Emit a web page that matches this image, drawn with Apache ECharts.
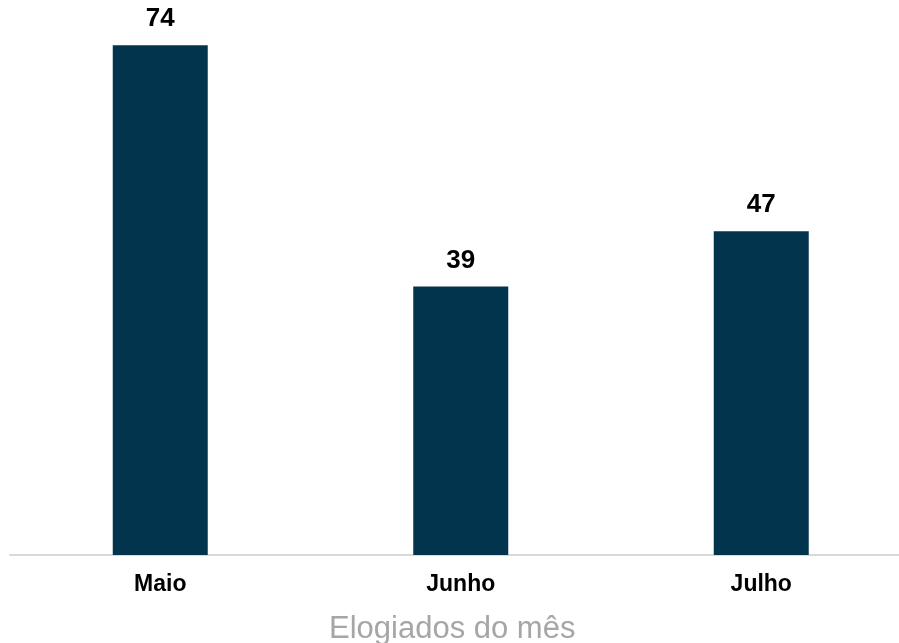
<!DOCTYPE html>
<html>
<head>
<meta charset="utf-8">
<script src="https://cdn.jsdelivr.net/npm/echarts@6/dist/echarts.min.js"></script>
<style>
  html, body { margin: 0; padding: 0; background: #fff; }
  #chart { width: 899px; height: 643px; }
</style>
</head>
<body>
<div id="chart"></div>
<script>
const categories = ['Maio', 'Junho', 'Julho'];
const elogios = [74, 39, 47];
const axisTitle = 'Elogiados do mês';

const FONT = '"Liberation Sans", Arial, sans-serif';

const chartDom = document.getElementById('chart');
const myChart = echarts.init(chartDom);

const option = {
  animation: false,
  title: {
    text: axisTitle,
    left: 324,
    top: 609,
    textStyle: {
      color: '#a6a6a6',
      fontSize: 31,
      fontWeight: 'normal',
      fontFamily: FONT
    }
  },
  grid: {
    left: 10,
    right: -12.5,
    top: 4,
    bottom: 88,
    outerBoundsMode: 'none',
    containLabel: false
  },
  xAxis: {
    type: 'category',
    data: categories,
    axisTick: { show: false },
    axisLine: {
      lineStyle: { color: '#d9d9d9', width: 2 }
    },
    axisLabel: {
      color: '#000',
      fontSize: 23,
      fontWeight: 'bold',
      fontFamily: FONT,
      margin: 18
    }
  },
  yAxis: {
    type: 'value',
    min: 0,
    max: 80,
    show: false,
    splitLine: { show: false }
  },
  series: [
    {
      type: 'bar',
      data: elogios,
      barWidth: 95,
      itemStyle: { color: '#03344d' },
      label: {
        show: true,
        position: 'top',
        distance: 13,
        color: '#000',
        fontSize: 26,
        fontWeight: 'bold',
        fontFamily: FONT
      }
    }
  ]
};

option && myChart.setOption(option);
</script>
</body>
</html>
